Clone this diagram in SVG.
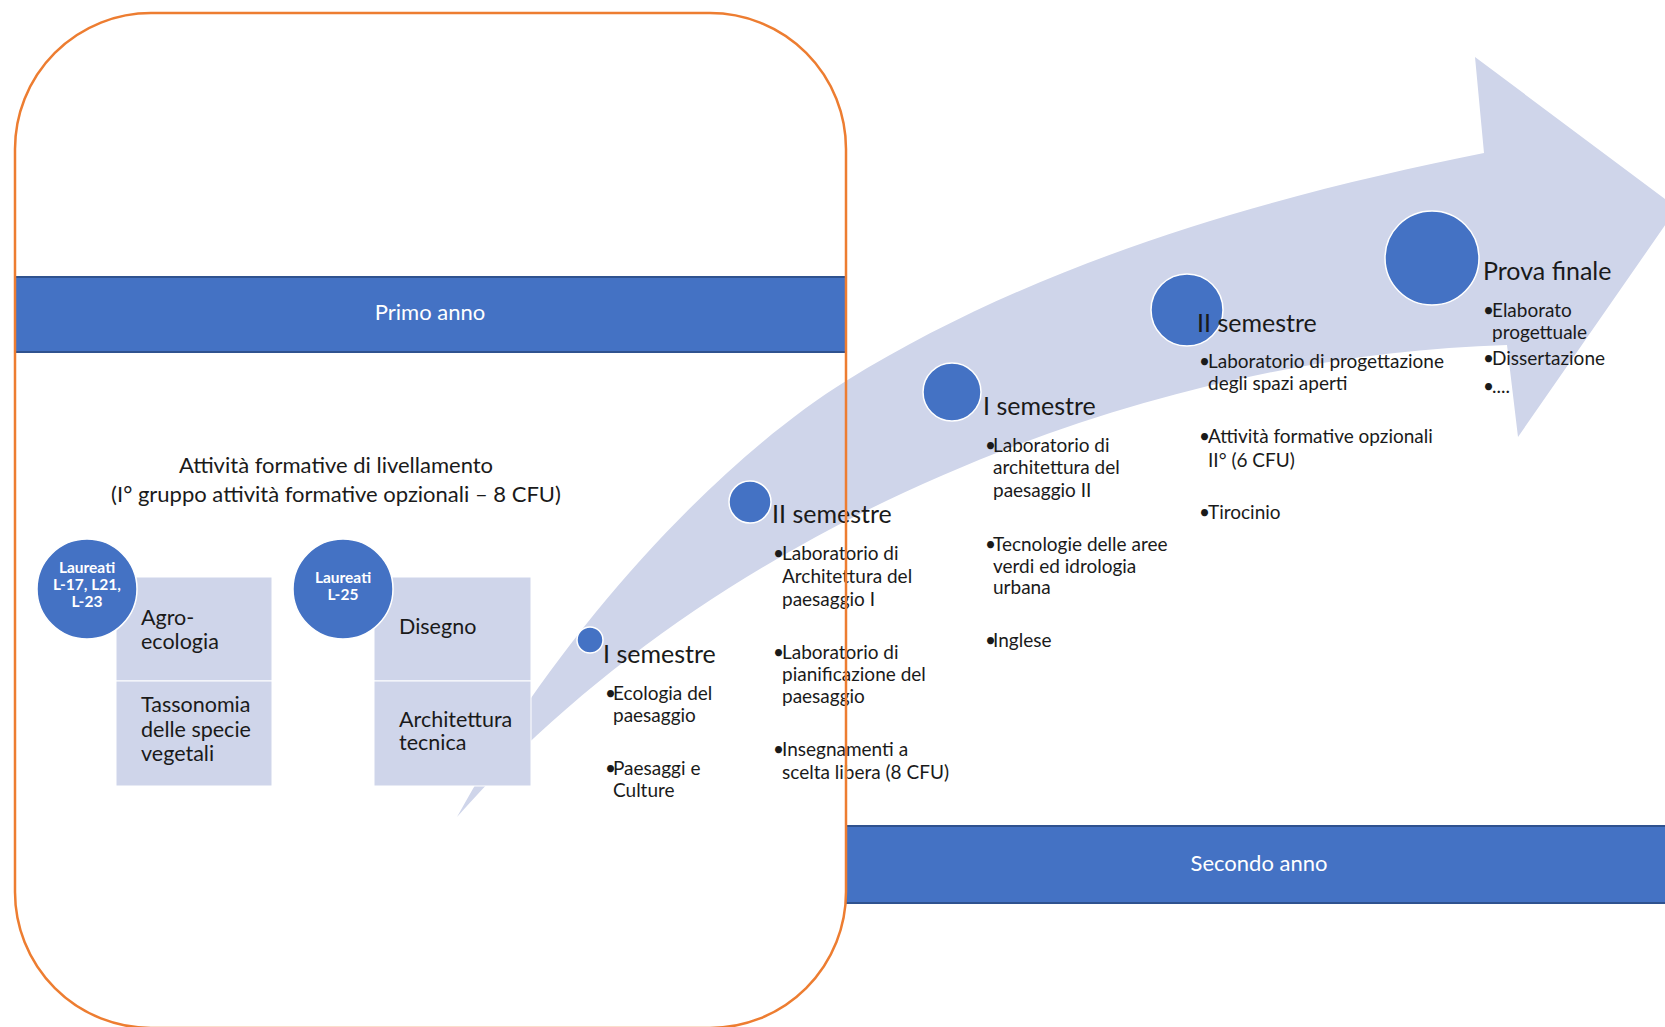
<svg xmlns="http://www.w3.org/2000/svg" width="1665" height="1027" viewBox="0 0 1665 1027">
<style>
  text { font-family: Lato, "Liberation Sans", sans-serif; fill: #1a1a1a; }
  .band { fill: #4472C4; stroke: #2F528F; stroke-width: 2; }
  .bandtxt { fill: #ffffff; font-size: 22px; text-anchor: middle; }
  .cell { fill: #CFD5EA; stroke: #ffffff; stroke-width: 1; }
  .cellTxt { font-size: 21.5px; }
  .dot { fill: #4472C4; stroke: #ffffff; stroke-width: 1.5; }
  .dotTxt { fill: #ffffff; font-size: 15.5px; font-weight: bold; text-anchor: middle; }
  .head { font-size: 25px; }
  .bul { font-size: 19px; }
  .title { font-size: 22px; text-anchor: middle; }
</style>

<g id="connectors">
  <path id="big-arrow" fill="#CFD5EA" d="M457,817 C720,520 1150,355 1507,345 L1518,437 L1677,208 L1475,57 L1484,153 C1284,193 1046,257 846,381 C716,462 560,630 457,817 Z"/>
</g>

<g id="primo-anno">
  <rect class="band" x="15" y="277" width="831" height="75"/>
  <text class="bandtxt" x="430" y="320">Primo anno</text>
</g>

<g id="secondo-anno">
  <rect class="band" x="846" y="826" width="830" height="77"/>
  <text class="bandtxt" x="1259" y="871">Secondo anno</text>
</g>

<g id="livellamento-title">
  <text class="title" x="336" y="473">Attività formative di livellamento</text>
  <text class="title" x="336" y="502">(I° gruppo attività formative opzionali – 8 CFU)</text>
</g>

<g id="box-agro">
  <rect class="cell" x="116" y="577" width="156" height="104"/>
  <rect class="cell" x="116" y="681" width="156" height="105"/>
  <text class="cellTxt"><tspan x="141" y="625">Agro-</tspan><tspan x="141" y="649">ecologia</tspan></text>
  <text class="cellTxt"><tspan x="141" y="712">Tassonomia</tspan><tspan x="141" y="737">delle specie</tspan><tspan x="141" y="761">vegetali</tspan></text>
</g>

<g id="laureati-l17">
  <circle class="dot" cx="87" cy="589" r="50"/>
  <text class="dotTxt"><tspan x="87" y="573">Laureati</tspan><tspan x="87" y="590">L-17, L21,</tspan><tspan x="87" y="607">L-23</tspan></text>
</g>

<g id="box-disegno">
  <rect class="cell" x="374" y="577" width="157" height="104"/>
  <rect class="cell" x="374" y="681" width="157" height="105"/>
  <text class="cellTxt" x="399" y="634">Disegno</text>
  <text class="cellTxt"><tspan x="399" y="727">Architettura</tspan><tspan x="399" y="750">tecnica</tspan></text>
</g>

<g id="laureati-l25">
  <circle class="dot" cx="343" cy="589" r="50"/>
  <text class="dotTxt"><tspan x="343" y="583">Laureati</tspan><tspan x="343" y="600">L-25</tspan></text>
</g>

<g id="anno1-sem1">
  <circle class="dot" cx="590" cy="640" r="13"/>
  <text class="head" x="603" y="663">I semestre</text>
  <text class="bul"><tspan x="605" y="700">•</tspan><tspan x="613">Ecologia del</tspan><tspan x="613" y="722">paesaggio</tspan></text>
  <text class="bul"><tspan x="605" y="775">•</tspan><tspan x="613">Paesaggi e</tspan><tspan x="613" y="797">Culture</tspan></text>
</g>

<g id="anno1-sem2">
  <circle class="dot" cx="750" cy="502" r="21"/>
  <text class="head" x="772" y="523">II semestre</text>
  <text class="bul"><tspan x="773" y="560">•</tspan><tspan x="782">Laboratorio di</tspan><tspan x="782" y="583">Architettura del</tspan><tspan x="782" y="606">paesaggio I</tspan></text>
  <text class="bul"><tspan x="773" y="659">•</tspan><tspan x="782">Laboratorio di</tspan><tspan x="782" y="681">pianificazione del</tspan><tspan x="782" y="703">paesaggio</tspan></text>
  <text class="bul"><tspan x="773" y="756">•</tspan><tspan x="782">Insegnamenti a</tspan><tspan x="782" y="779">scelta libera (8 CFU)</tspan></text>
</g>

<g id="anno2-sem1">
  <circle class="dot" cx="952" cy="392" r="29"/>
  <text class="head" x="983" y="415">I semestre</text>
  <text class="bul"><tspan x="985" y="452">•</tspan><tspan x="993">Laboratorio di</tspan><tspan x="993" y="474">architettura del</tspan><tspan x="993" y="497">paesaggio II</tspan></text>
  <text class="bul"><tspan x="985" y="551">•</tspan><tspan x="993">Tecnologie delle aree</tspan><tspan x="993" y="573">verdi ed idrologia</tspan><tspan x="993" y="594">urbana</tspan></text>
  <text class="bul"><tspan x="985" y="647">•</tspan><tspan x="993">Inglese</tspan></text>
</g>

<g id="anno2-sem2">
  <circle class="dot" cx="1187" cy="310" r="36"/>
  <text class="head" x="1197" y="332">II semestre</text>
  <text class="bul"><tspan x="1199" y="368">•</tspan><tspan x="1208">Laboratorio di progettazione</tspan><tspan x="1208" y="390">degli spazi aperti</tspan></text>
  <text class="bul"><tspan x="1199" y="443">•</tspan><tspan x="1208">Attività formative opzionali</tspan><tspan x="1208" y="467">II° (6 CFU)</tspan></text>
  <text class="bul"><tspan x="1199" y="519">•</tspan><tspan x="1208">Tirocinio</tspan></text>
</g>

<g id="prova-finale">
  <circle class="dot" cx="1432" cy="258" r="47"/>
  <text class="head" x="1483" y="280">Prova finale</text>
  <text class="bul"><tspan x="1483" y="317">•</tspan><tspan x="1492">Elaborato</tspan><tspan x="1492" y="339">progettuale</tspan></text>
  <text class="bul"><tspan x="1483" y="365">•</tspan><tspan x="1492">Dissertazione</tspan></text>
  <text class="bul"><tspan x="1483" y="393">•</tspan><tspan x="1492">....</tspan></text>
</g>

<g id="primo-anno-frame">
  <rect x="15" y="13" width="831" height="1015" rx="136" ry="136" fill="none" stroke="#ED7D31" stroke-width="2.5"/>
</g>
</svg>
